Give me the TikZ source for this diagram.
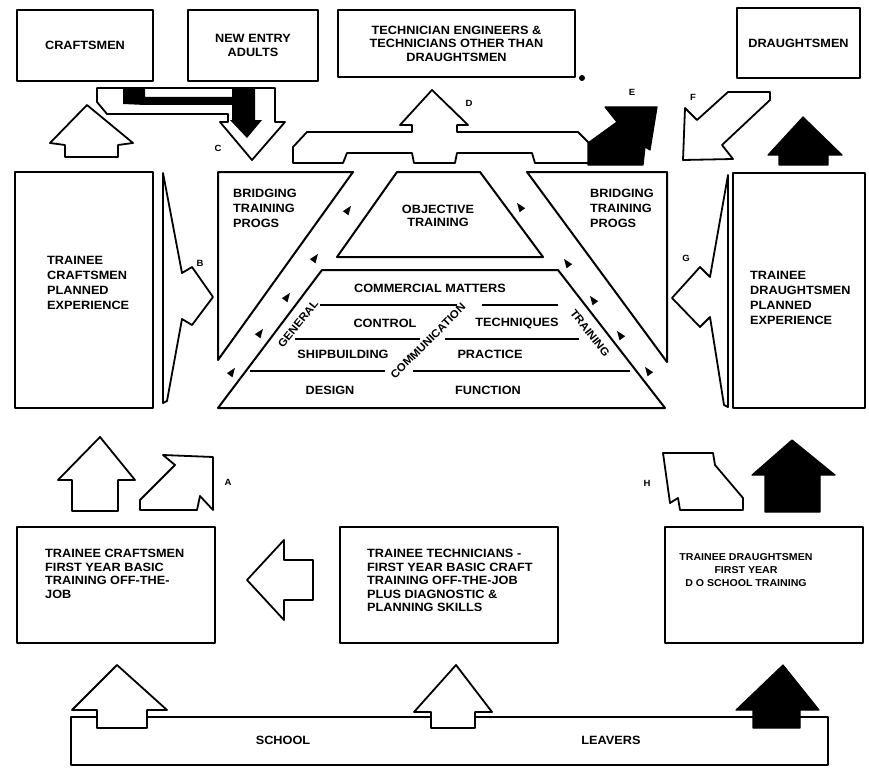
\documentclass[tikz,border=0pt]{standalone}
\usepackage{fontspec}
\setmainfont{Liberation Sans}[FakeStretch=1.06]

% small flow marks in the channels
\newcommand{\flowmark}[3]{\fill[rotate around={#3:(#1,#2)}] (#1,#2-5) -- (#1+3.5,#2+4) -- (#1-3.5,#2+4) -- cycle;}

\begin{document}
\begin{tikzpicture}[x=1pt, y=-1pt, line join=round,
                    every node/.style={font=\fontsize{12}{13.5}\selectfont\bfseries,
                                       inner sep=0pt},
                    box/.style={draw, line width=2.2pt, fill=white},
                    txt/.style={align=left, anchor=north west},
                    wide/.style={font=\fontsize{12}{15}\selectfont\bfseries},
                    fat/.style={draw, line width=1.8pt, fill=white},
                    blackfat/.style={draw, line width=1.2pt, fill=black},
                    tri/.style={draw, line width=2pt},
                    tag/.style={font=\fontsize{9}{10}\selectfont\bfseries}]
    \useasboundingbox (0,0) rectangle (869,773);

    % top row
    \node[box, minimum width=136, minimum height=71] (crafts) at (85,45.5) {CRAFTSMEN};
    \node[box, minimum width=130, minimum height=71, align=center] (newentry) at (253,45.5) {NEW ENTRY\\ADULTS};
    \node[box, minimum width=237, minimum height=67, align=center] (techeng) at (456.5,43.5)
        {TECHNICIAN ENGINEERS \&\\TECHNICIANS OTHER THAN\\DRAUGHTSMEN};
    \fill (582,78) circle (3);
    \node[box, minimum width=123, minimum height=70] (draughts) at (798.5,43) {DRAUGHTSMEN};

    % arrows under the top row
    \draw[fat] (87,105) -- (133,143) -- (118,145) -- (118,157) -- (65,157) -- (65,145) -- (50,143) -- cycle;
    \draw[fat] (97,88) -- (275,88) -- (275,122) -- (285,122) -- (252,160) -- (220,122) -- (228,122)
        -- (228,114) -- (107,114) -- (97,102) -- cycle;
    \fill (123,89) -- (145,89) -- (145,97) -- (232,97) -- (232,89) -- (255,89) -- (255,120) -- (262,120)
        -- (247,138) -- (230,120) -- (232,120) -- (232,105) -- (145,105) -- (123,104) -- cycle;
    \node[tag] (labC) at (218,148) {C};
    \draw[fat] (293,163) -- (293,147) -- (307,132) -- (412,132) -- (412,125) -- (400,125) -- (432,90)
        -- (468,125) -- (457,125) -- (457,132) -- (578,132) -- (590,144) -- (590,163) -- (535,163)
        -- (532,153) -- (457,153) -- (455,163) -- (414,163) -- (412,153) -- (347,153) -- (343,163) -- cycle;
    \node[tag] (labD) at (469,103) {D};
    \draw[blackfat] (605,107) -- (657,107) -- (650,150) -- (645,147) -- (643,165) -- (588,165) -- (588,143)
        -- (617,122) -- cycle;
    \node[tag] (labE) at (632,92) {E};
    \draw[fat] (683,160) -- (685,108) -- (697,120) -- (728,92) -- (770,92) -- (770,100) -- (722,145)
        -- (733,159) -- cycle;
    \node[tag] (labF) at (693,97) {F};
    \draw[blackfat] (803,117) -- (842,155) -- (828,155) -- (828,165) -- (779,165) -- (779,155) -- (768,155) -- cycle;

    % planned experience
    \node[box, minimum width=138, minimum height=236] (tcpe) at (84,290) {};
    \node[txt, wide] (tcpetext) at (47,256) {TRAINEE\\CRAFTSMEN\\PLANNED\\EXPERIENCE};
    \node[box, minimum width=132, minimum height=235] (tdpe) at (799,290.5) {};
    \node[txt, wide] (tdpetext) at (750,271) {TRAINEE\\DRAUGHTSMEN\\PLANNED\\EXPERIENCE};
    \draw[fat] (163,173) -- (182,273) -- (192,267) -- (213,297) -- (192,325) -- (182,319) -- (167,401)
        -- (163,403) -- cycle;
    \node[tag] (labB) at (200,263) {B};
    \draw[fat] (728,175) -- (710,277) -- (700,267) -- (672,298) -- (700,327) -- (710,317) -- (724,405)
        -- (728,407) -- cycle;
    \node[tag] (labG) at (686,258) {G};

    % bridging and objective training
    \draw[tri] (218,172) -- (353,172) -- (218,360) -- cycle;
    \node[txt, wide] (bridgeL) at (233,189) {BRIDGING\\TRAINING\\PROGS};
    \draw[tri] (527,172) -- (667,172) -- (667,362) -- cycle;
    \node[txt, wide] (bridgeR) at (590,189) {BRIDGING\\TRAINING\\PROGS};
    \draw[tri] (397,172) -- (480,172) -- (543,257) -- (337,257) -- cycle;
    \node[align=center, font=\fontsize{12}{12.5}\selectfont\bfseries] (objective) at (438,216) {OBJECTIVE\\TRAINING};

    % general training
    \draw[tri] (322,270) -- (558,270) -- (665,408) -- (218,408) -- cycle;
    \draw[tri] (320,305) -- (457,305);
    \draw[tri] (482,305) -- (558,305);
    \draw[tri] (295,339) -- (420,339);
    \draw[tri] (445,339) -- (579,339);
    \draw[tri] (250,371) -- (385,371);
    \draw[tri] (413,371) -- (630,371);
    \node (commercial) at (430,288) {COMMERCIAL MATTERS};
    \node (control) at (385,323) {CONTROL};
    \node (techniques) at (517,323) {TECHNIQUES};
    \node (shipbuilding) at (343,354) {SHIPBUILDING};
    \node (practice) at (490,354) {PRACTICE};
    \node (design) at (330,390) {DESIGN};
    \node (function) at (488,390) {FUNCTION};
    \node[rotate=51, font=\fontsize{11}{12}\selectfont\bfseries] (general) at (298,324) {GENERAL};
    \node[rotate=45, font=\fontsize{11}{12}\selectfont\bfseries] (communication) at (428,341) {COMMUNICATION};
    \node[rotate=-52, font=\fontsize{11}{12}\selectfont\bfseries] (training) at (590,333) {TRAINING};

    \flowmark{348}{210}{-36}
    \flowmark{315}{258}{-36}
    \flowmark{287}{297}{-36}
    \flowmark{260}{333}{-36}
    \flowmark{232}{372}{-36}
    \flowmark{520}{207}{36}
    \flowmark{567}{263}{36}
    \flowmark{593}{300}{36}
    \flowmark{620}{335}{36}
    \flowmark{648}{371}{36}

    % arrows above the first year boxes
    \draw[fat] (100,437) -- (135,480) -- (118,480) -- (118,511) -- (72,511) -- (72,480) -- (58,480) -- cycle;
    \draw[fat] (163,455) -- (213,457) -- (213,510) -- (200,496) -- (197,510) -- (140,510) -- (140,500)
        -- (175,465) -- cycle;
    \node[tag] (labA) at (228,482) {A};
    \draw[fat] (663,453) -- (713,453) -- (715,465) -- (743,498) -- (743,510) -- (680,510) -- (678,498)
        -- (670,503) -- cycle;
    \node[tag] (labH) at (647,483) {H};
    \draw[blackfat] (792,440) -- (835,475) -- (820,475) -- (820,512) -- (765,512) -- (765,475) -- (752,475) -- cycle;

    % first year
    \node[box, minimum width=198, minimum height=116] (tcfy) at (116,585) {};
    \node[txt] (tcfytext) at (45,549) {TRAINEE CRAFTSMEN\\FIRST YEAR BASIC\\TRAINING OFF-THE-\\JOB};
    \node[box, minimum width=218, minimum height=116] (ttfy) at (449,585) {};
    \node[txt] (ttfytext) at (367,549) {TRAINEE TECHNICIANS -\\FIRST YEAR BASIC CRAFT\\TRAINING OFF-THE-JOB\\PLUS DIAGNOSTIC \&\\PLANNING SKILLS};
    \node[box, minimum width=198, minimum height=116] (tdfy) at (764,585) {};
    \node[align=center, font=\fontsize{10}{13}\selectfont\bfseries] (tdfytext) at (746,570)
        {TRAINEE DRAUGHTSMEN\\FIRST YEAR\\D O SCHOOL TRAINING};
    \draw[fat] (247,580) -- (284,540) -- (284,560) -- (313,560) -- (313,600) -- (284,600) -- (284,620) -- cycle;

    % school leavers
    \node[box, minimum width=757, minimum height=48] (leavers) at (449.5,741) {};
    \node (school) at (283,740) {SCHOOL};
    \node (leaverstext) at (611,740) {LEAVERS};
    \draw[fat] (117,665) -- (167,710) -- (147,710) -- (147,728) -- (97,728) -- (97,710) -- (72,710) -- cycle;
    \draw[fat] (456,665) -- (492,712) -- (475,712) -- (475,728) -- (431,728) -- (431,712) -- (414,712) -- cycle;
    \draw[blackfat] (783,665) -- (819,710) -- (800,710) -- (800,728) -- (753,728) -- (753,710) -- (736,710) -- cycle;
\end{tikzpicture}
\end{document}
